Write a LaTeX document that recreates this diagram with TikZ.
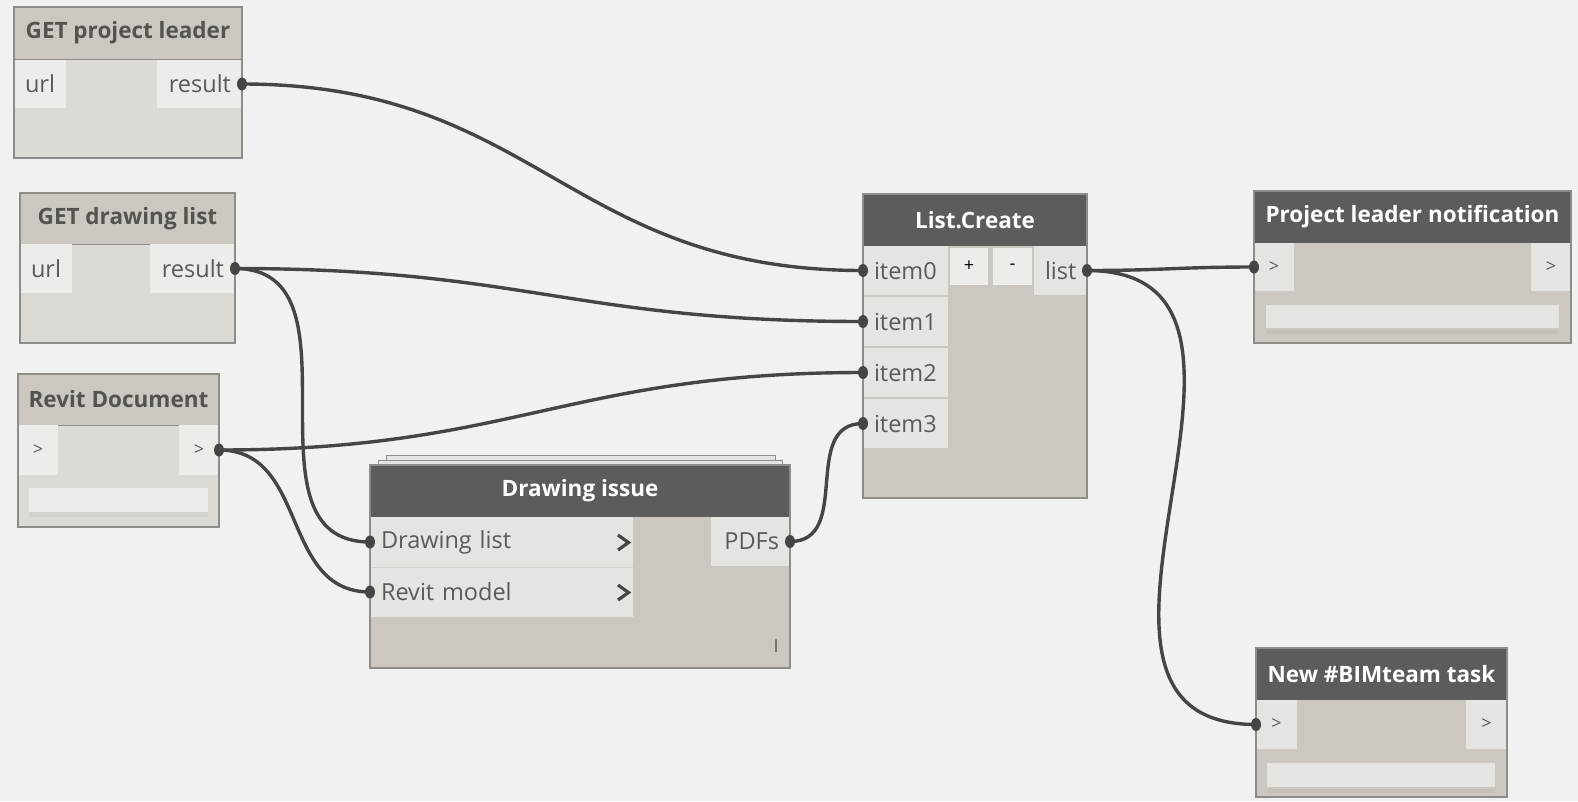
\documentclass[tikz,border=0pt]{standalone}
\usepackage{fontspec}
\setmainfont{Open Sans}
\definecolor{bgc}{HTML}{F0F1F0}
\definecolor{lbodyc}{HTML}{DDDAD5}
\definecolor{lheadc}{HTML}{CCC8C1}
\definecolor{lportc}{HTML}{EEECE9}
\definecolor{dheadc}{HTML}{5E5C5A}
\definecolor{dbodyc}{HTML}{CCC7C0}
\definecolor{dportc}{HTML}{E6E4E0}
\definecolor{framec}{HTML}{8E8C89}
\definecolor{porttxt}{HTML}{5A5A5A}
\definecolor{lheadtxt}{HTML}{555350}
\definecolor{wirec}{HTML}{454545}
\definecolor{fieldc}{HTML}{EEECE9}
\newcommand\dynhfont{\fontsize{22.5}{26}\selectfont\bfseries}
\newcommand\dynpfont{\fontsize{23.5}{27}\selectfont}
\newcommand\dynsfont{\fontsize{18}{22}\selectfont}
\begin{document}
\begin{tikzpicture}[x=1pt,y=-1pt,
  lbody/.style={anchor=north west, inner sep=0pt, outer sep=0pt, fill=lbodyc},
  dbody/.style={anchor=north west, inner sep=0pt, outer sep=0pt, fill=dbodyc},
  lhead/.style={anchor=north west, inner sep=0pt, outer sep=0pt, fill=lheadc, draw=framec, line width=1pt, text=lheadtxt, font=\dynhfont},
  dhead/.style={anchor=north west, inner sep=0pt, outer sep=0pt, fill=dheadc, text=white, font=\dynhfont},
  lport/.style={anchor=north west, inner xsep=11pt, inner ysep=0pt, outer sep=0pt, fill=lportc, text=porttxt, font=\dynpfont, align=left},
  rport/.style={anchor=north east, inner xsep=11pt, inner ysep=0pt, outer sep=0pt, fill=lportc, text=porttxt, font=\dynpfont, align=right},
  dlport/.style={lport, fill=dportc},
  drport/.style={rport, fill=dportc},
  chev/.style={anchor=north west, inner sep=0pt, outer sep=0pt, fill=lportc, text=porttxt, font=\dynsfont},
  dchev/.style={chev, fill=dportc},
  field/.style={anchor=north west, inner sep=0pt, outer sep=0pt, fill=fieldc},
  btn/.style={anchor=north west, inner sep=0pt, outer sep=0pt, fill=lportc, text=black, font=\dynsfont},
  frame/.style={draw=framec, line width=1.3pt},
  wire/.style={draw=wirec, line width=3.4pt},
  dot/.style={fill=wirec}
]
\useasboundingbox (0,0) rectangle (1578,801);
\fill[bgc] (0,0) rectangle (1578,801);

% ---------- GET project leader
\node[lbody, minimum width=228pt, minimum height=151pt] (gpl) at (14,7) {};
\node[lhead, minimum width=228pt, minimum height=52pt] (gplh) at (14,7) {GET project leader};
\node[lport, text width=30pt, minimum height=48pt] (gplurl) at (14,60) {url};
\node[rport, text width=63pt, minimum height=48pt] (gplres) at (242,60) {result};
\draw[frame] (gpl.north west) rectangle (gpl.south east);

% ---------- GET drawing list
\node[lbody, minimum width=215pt, minimum height=150pt] (gdl) at (20,193) {};
\node[lhead, minimum width=215pt, minimum height=51pt] (gdlh) at (20,193) {GET drawing list};
\node[lport, text width=30pt, minimum height=49pt] (gdlurl) at (20,244) {url};
\node[rport, text width=63pt, minimum height=49pt] (gdlres) at (235,244) {result};
\draw[frame] (gdl.north west) rectangle (gdl.south east);

% ---------- Revit Document
\node[lbody, minimum width=201pt, minimum height=153pt] (rd) at (18,374) {};
\node[lhead, minimum width=201pt, minimum height=51pt] (rdh) at (18,374) {Revit Document};
\node[chev, minimum width=40pt, minimum height=50pt] (rdin) at (18,425) {>};
\node[chev, minimum width=40pt, minimum height=50pt] (rdout) at (179,425) {>};
\node[field, minimum width=179pt, minimum height=24pt] (rdfield) at (29,488) {};
\fill[lbodyc!96!black] (29,512) rectangle (208,517);
\draw[frame] (rd.north west) rectangle (rd.south east);

% ---------- Drawing issue (stacked)
\draw[draw=framec, fill=dportc, line width=1pt] (386,455) rectangle (775,462);
\draw[draw=framec, fill=dportc, line width=1pt] (378,460) rectangle (782,467);
\node[dbody, minimum width=420pt, minimum height=203pt] (di) at (370,465) {};
\node[dhead, minimum width=420pt, minimum height=52pt] (dih) at (370,465) {Drawing issue};
\node[dlport, text width=241pt, minimum height=50pt] (didl) at (370,517) {Drawing list};
\node[dlport, text width=241pt, minimum height=50pt] (dirm) at (370,567) {Revit model};
\draw[dbodyc!80!white, line width=1pt] (370,567) -- (633,567);
\draw[wirec, line width=3.2pt] (618,535) -- (628.5,542.5) -- (618,550);
\draw[wirec, line width=3.2pt] (618,585) -- (628.5,592.5) -- (618,600);
\node[drport, text width=57pt, minimum height=49pt] (dipdf) at (790,517) {PDFs};
\node[anchor=center, inner sep=0pt, text=porttxt, font=\dynsfont] (dibar) at (776,646) {I};
\draw[frame] (di.north west) rectangle (di.south east);

% ---------- List.Create
\node[dbody, minimum width=224pt, minimum height=304pt] (lc) at (863,194) {};
\node[dhead, minimum width=224pt, minimum height=52pt] (lch) at (863,194) {List.Create};
\node[dlport, text width=63pt, minimum height=49pt] (lci0) at (863,246) {item0};
\node[dlport, text width=63pt, minimum height=49pt] (lci1) at (863,297) {item1};
\node[dlport, text width=63pt, minimum height=49pt] (lci2) at (863,348) {item2};
\node[dlport, text width=63pt, minimum height=49pt] (lci3) at (863,399) {item3};
\node[btn, minimum width=38pt, minimum height=37pt] (lcplus) at (950,248) {+};
\node[btn, minimum width=39pt, minimum height=37pt] (lcminus) at (993,248) {-};
\node[drport, text width=31pt, minimum height=49pt] (lclist) at (1087,246) {list};
\draw[frame] (lc.north west) rectangle (lc.south east);

% ---------- Project leader notification
\node[dbody, minimum width=317pt, minimum height=152pt] (pln) at (1254,191) {};
\node[dhead, minimum width=317pt, minimum height=52pt] (plnh) at (1254,191) {Project leader notification};
\node[dchev, minimum width=40pt, minimum height=48pt] (plnin) at (1254,243) {>};
\node[dchev, minimum width=40pt, minimum height=48pt] (plnout) at (1531,243) {>};
\node[field, fill=dportc, minimum width=293pt, minimum height=23pt] (plnfield) at (1266,305) {};
\fill[dbodyc!96!black] (1266,330) rectangle (1559,334);
\draw[frame] (pln.north west) rectangle (pln.south east);

% ---------- New #BIMteam task
\node[dbody, minimum width=251pt, minimum height=149pt] (nbt) at (1256,648) {};
\node[dhead, minimum width=251pt, minimum height=52pt] (nbth) at (1256,648) {New \#BIMteam task};
\node[dchev, minimum width=41pt, minimum height=49pt] (nbtin) at (1256,700) {>};
\node[dchev, minimum width=41pt, minimum height=49pt] (nbtout) at (1466,700) {>};
\node[field, fill=dportc, minimum width=228pt, minimum height=24pt] (nbtfield) at (1267,763) {};
\fill[dbodyc!96!black] (1267,789) rectangle (1495,793);
\draw[frame] (nbt.north west) rectangle (nbt.south east);

% ---------- wires
\draw[wire] (gplres.east) .. controls +(295,0) and +(-295,0) .. (lci0.west);
\draw[wire] (gdlres.east) .. controls +(290,0) and +(-290,0) .. (lci1.west);
\draw[wire] (gdlres.east) .. controls +(135,0) and +(-135,0) .. (didl.west);
\draw[wire] (rdout.east) .. controls +(295,0) and +(-295,0) .. (lci2.west);
\draw[wire] (rdout.east) .. controls +(90,0) and +(-90,0) .. (dirm.west);
\draw[wire] (dipdf.east) .. controls +(63,0) and +(-63,0) .. (lci3.west);
\draw[wire] (lclist.east) .. controls +(76,0) and +(-76,0) .. (plnin.west);
\draw[wire] (lclist.east) .. controls +(240,0) and +(-240,0) .. (nbtin.west);

% port sockets
\foreach \p in {gplres.east, gdlres.east, rdout.east, dipdf.east, lclist.east}
  \fill[dot] (\p) ellipse (5pt and 6.5pt);
\foreach \p in {lci0.west, lci1.west, lci2.west, lci3.west, didl.west, dirm.west, plnin.west, nbtin.west}
  \fill[dot] (\p) ellipse (5pt and 6.5pt);
\end{tikzpicture}
\end{document}
